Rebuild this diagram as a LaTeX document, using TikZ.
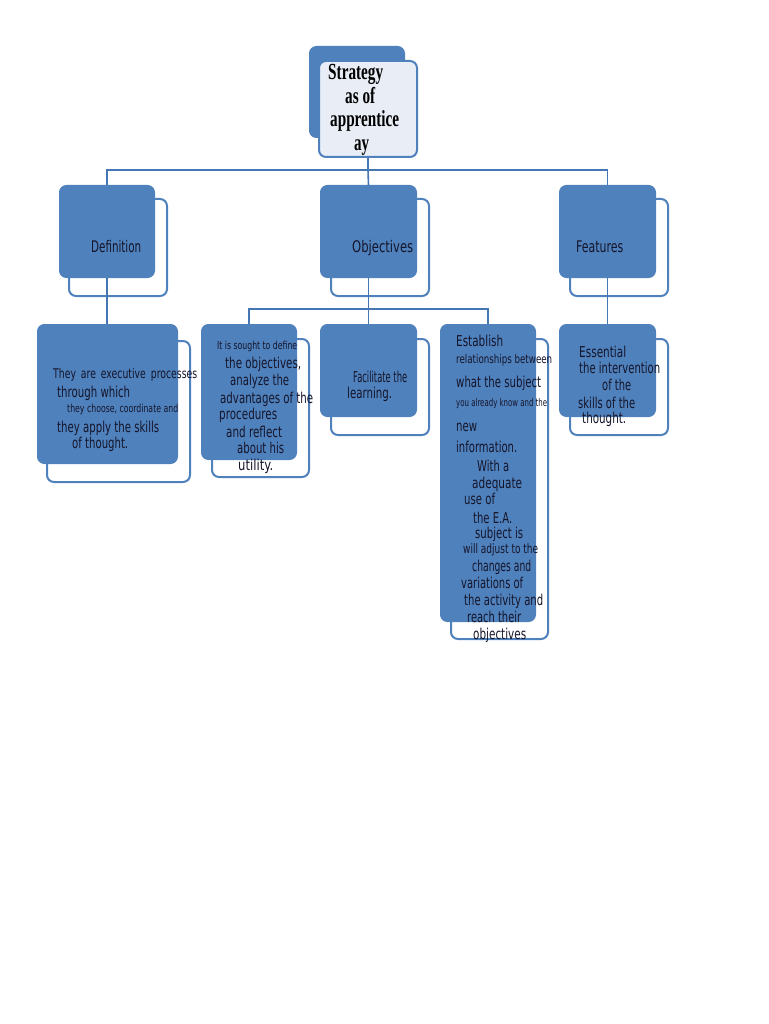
\documentclass[tikz,border=0pt]{standalone}
\usepackage{fontspec}
\usepackage{graphicx}
\setmainfont{DejaVu Sans}
\newfontfamily\rootfont{Liberation Serif}
\newfontfamily\condf[FakeStretch=0.7]{DejaVu Sans}
\definecolor{boxblue}{HTML}{4F81BD}
\definecolor{lineblue}{HTML}{4576B4}
\definecolor{rootfill}{HTML}{E9EEF6}
\definecolor{textdark}{HTML}{15152A}
\tikzset{
  front/.style={draw=boxblue, fill=boxblue, rounded corners=7pt, anchor=north west, inner sep=0pt, line width=1pt},
  backbox/.style={draw=boxblue, rounded corners=7pt, anchor=north west, inner sep=0pt, line width=2pt},
  rootfront/.style={draw=boxblue, fill=rootfill, rounded corners=7pt, anchor=north west, inner sep=0pt, line width=2pt},
  conn/.style={draw=lineblue, line width=1.6pt},
  txt/.style={anchor=base west, inner sep=0pt, text=textdark},
}
\newcommand\txtline[6]{\node[txt,font=\fontsize{#4pt}{#4pt}\selectfont] (#1) at (#2,#3) {\resizebox{#5pt}{\height}{#6}};}
\newcommand\rootline[5]{\node[txt,text=black,font=\rootfont\bfseries\fontsize{23pt}{23pt}\selectfont] (#1) at (#2,#3) {\resizebox{#4pt}{\height}{#5}};}
\begin{document}
\begin{tikzpicture}[x=1pt,y=-1pt]
\fill[white] (0,0) rectangle (768,1024);
\useasboundingbox (0,0) rectangle (768,1024);

% root
\node[front, minimum width=95pt, minimum height=91pt] (rootb) at (309,46) {};
\node[rootfront, minimum width=98pt, minimum height=96pt] (root) at (318,60) {};
\rootline{r1}{328}{80}{55}{Strategy}
\rootline{r2}{345}{103.5}{30}{as of}
\rootline{r3}{330}{127}{69}{apprentice}
\rootline{r4}{354}{151}{15}{ay}

% level 2
\node[backbox, minimum width=98pt, minimum height=97pt] (defb) at (68,198) {};
\node[front, minimum width=95pt, minimum height=92pt] (def) at (59,185) {};
\node[backbox, minimum width=98pt, minimum height=97pt] (objb) at (330,198) {};
\node[front, minimum width=96pt, minimum height=92pt] (obj) at (320,185) {};
\node[backbox, minimum width=98pt, minimum height=97pt] (featb) at (569,198) {};
\node[front, minimum width=96pt, minimum height=92pt] (feat) at (559,185) {};

% level 3
\node[backbox, minimum width=143pt, minimum height=141pt] (d1b) at (46,340) {};
\node[front, minimum width=140pt, minimum height=139pt] (d1) at (37,324) {};
\node[backbox, minimum width=97pt, minimum height=138pt] (o1b) at (211,338) {};
\node[front, minimum width=95pt, minimum height=135pt] (o1) at (201,324) {};
\node[backbox, minimum width=98pt, minimum height=96pt] (o2b) at (330,338) {};
\node[front, minimum width=96pt, minimum height=92pt] (o2) at (320,324) {};
\node[backbox, minimum width=97pt, minimum height=300pt] (o3b) at (450,338) {};
\node[front, minimum width=95pt, minimum height=297pt] (o3) at (440,324) {};
\node[backbox, minimum width=98pt, minimum height=96pt] (f1b) at (569,338) {};
\node[front, minimum width=96pt, minimum height=92pt] (f1) at (559,324) {};

% connectors
\draw[conn] (root.south) -- ++(0,12) coordinate (j0);
\draw[conn] (j0) -| (def.north);
\draw[conn] (j0) -| (feat.north);
\draw[conn] (j0) -- (obj.north);
\draw[conn] (def.south) -- (def.south |- d1.north);
\draw[conn] (feat.south) -- (feat.south |- f1.north);
\draw[conn] (obj.south) -- ++(0,31) coordinate (j1);
\draw[conn] (j1) -| (o1.north);
\draw[conn] (j1) -| (o3.north);
\draw[conn] (j1) -- (o2.north);

% level 2 texts
\txtline{t-def}{91}{252}{16}{50}{Definition}
\txtline{t-obj}{352}{252}{16}{61}{Objectives}
\txtline{t-feat}{576}{252}{16}{47}{Features}

% definition detail
\node[txt,font=\condf\fontsize{13.3pt}{13.3pt}\selectfont] (d1a) at (53,378) {\makebox[144pt][s]{They are executive processes}};
\txtline{d1b-t}{57}{397}{15}{73}{through which}
\txtline{d1c}{67}{412}{11}{111}{they choose, coordinate and}
\txtline{d1d}{57}{432}{15}{102}{they apply the skills}
\txtline{d1e}{72}{448}{15}{56}{of thought.}

% objective 1
\txtline{o1a}{217}{349}{11}{80}{It is sought to define}
\txtline{o1c}{225}{368}{15}{76}{the objectives,}
\txtline{o1d}{230}{385}{15}{59}{analyze the}
\txtline{o1e}{220}{403}{15}{93}{advantages of the}
\txtline{o1f}{219}{419}{15}{58}{procedures}
\txtline{o1g}{226}{437}{15}{56}{and reflect}
\txtline{o1h}{237}{453}{15}{47}{about his}
\txtline{o1i}{238}{470}{15}{35}{utility.}

% objective 2
\txtline{o2a}{353}{382}{15}{54}{Facilitate the}
\txtline{o2c}{347}{398}{15}{45}{learning.}

% objective 3
\txtline{o3a}{456}{346}{15}{47}{Establish}
\txtline{o3c}{456}{363}{12}{96}{relationships between}
\txtline{o3d}{456}{387}{15}{85}{what the subject}
\txtline{o3e}{456}{406}{10.5}{91}{you already know and the}
\txtline{o3f}{456}{431}{15}{21}{new}
\txtline{o3g}{456}{452}{15}{61}{information.}
\txtline{o3h}{477}{471}{15}{32}{With a}
\txtline{o3i}{472}{488}{15}{50}{adequate}
\txtline{o3j}{464}{504}{15}{31}{use of}
\txtline{o3k}{473}{523}{15}{39}{the E.A.}
\txtline{o3l}{475}{538}{15}{48}{subject is}
\txtline{o3m}{463}{553}{13}{75}{will adjust to the}
\txtline{o3n}{472}{571}{15}{59}{changes and}
\txtline{o3o}{461}{588}{15}{62}{variations of}
\txtline{o3p}{464}{605}{15}{79}{the activity and}
\txtline{o3q}{467}{622}{15}{54}{reach their}
\txtline{o3r}{473}{639}{15}{53}{objectives}

% features detail
\txtline{f1a}{579}{357}{15}{47}{Essential}
\txtline{f1c}{579}{373}{15}{81}{the intervention}
\txtline{f1d}{602}{390}{15}{29}{of the}
\txtline{f1e}{578}{408}{15}{57}{skills of the}
\txtline{f1f}{582}{423}{15}{44}{thought.}
\end{tikzpicture}
\end{document}
